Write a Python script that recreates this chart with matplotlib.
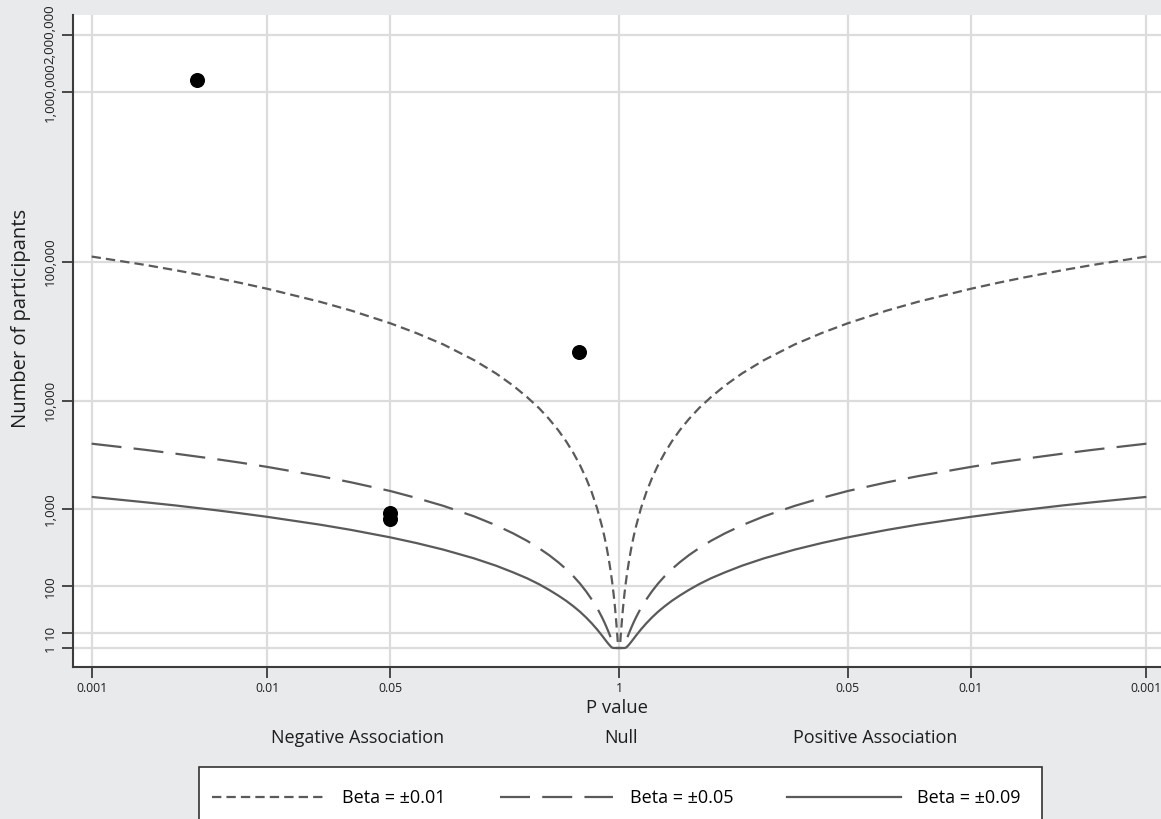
import numpy as np
import matplotlib
matplotlib.use("Agg")
import matplotlib.pyplot as plt
from matplotlib.lines import Line2D
from matplotlib.patches import Rectangle

plt.rcParams['font.family'] = ['Open Sans', 'DejaVu Sans']

# ---------------- data ----------------
p_grid = [0.001, 0.002, 0.003, 0.005, 0.007, 0.01, 0.02, 0.03, 0.05, 0.07, 0.1,
          0.15, 0.2, 0.25, 0.3, 0.35, 0.4, 0.45, 0.5, 0.55, 0.6, 0.65, 0.7, 0.75,
          0.8, 0.825, 0.85, 0.875, 0.9, 0.915, 0.93, 0.94, 0.95, 0.96, 0.97,
          0.975, 0.98, 0.985, 0.99, 0.995, 1.0]
n_beta001 = [108000, 95500, 88100, 78800, 72700, 66300, 54100, 47100, 38400, 32800,
             27100, 20700, 16400, 13200, 10700, 8740, 7080, 5710, 4550, 3570, 2750,
             2060, 1490, 1020, 642, 489, 358, 247, 158, 114, 77, 57, 39, 25, 14, 9.8,
             6.3, 3.5, 1.6, 1, 1]
n_beta005 = [4330, 3820, 3520, 3150, 2910, 2650, 2160, 1880, 1540, 1310, 1080, 829,
             657, 529, 430, 349, 283, 228, 182, 143, 110, 82, 59, 41, 25.7, 19.6,
             14.3, 9.9, 6.3, 4.6, 3.1, 2.3, 1.6, 1.0, 1, 1, 1, 1, 1, 1, 1]
n_beta009 = [1340, 1180, 1090, 973, 898, 819, 668, 581, 474, 405, 334, 256, 203, 163,
             133, 108, 87, 70, 56, 44, 34, 25.4, 18.3, 12.5, 7.9, 6.0, 4.4, 3.05,
             1.95, 1.41, 1, 1, 1, 1, 1, 1, 1, 1, 1, 1, 1]
series_labels = ["Beta = \u00b10.01", "Beta = \u00b10.05", "Beta = \u00b10.09"]

dot_p = [0.004, 0.59, 0.05, 0.05]
dot_n = [1160000, 23800, 900, 780]
dot_side = [-1, -1, -1, -1]   # -1 = negative association, +1 = positive

xtick_p = [0.001, 0.01, 0.05, 1, 0.05, 0.01, 0.001]
xtick_side = [-1, -1, -1, 0, 1, 1, 1]
xtick_labels = ["0.001", "0.01", "0.05", "1", "0.05", "0.01", "0.001"]
ytick_vals = [1, 10, 100, 1000, 10000, 100000, 1000000, 2000000]
ytick_labels = ["1", "10", "100", "1,000", "10,000", "100,000", "1,000,000", "2,000,000"]

# ---------------- scales ----------------
def signed_logp(p, side):
    return np.asarray(side, float) * -np.log10(np.asarray(p, float))

def fwd(y):
    y = np.asarray(y, float)
    l = np.log10(np.clip(y, 1e-12, None))
    return np.sign(l) * l ** 2

def inv(t):
    t = np.asarray(t, float)
    return 10 ** (np.sign(t) * np.sqrt(np.abs(t)))

BG = "#e9eaec"
LC = "#5a5a5a"
GRID = "#dcdcdc"
SPINE = "#3c3c3c"
TXT = "#1e1e1e"

fig = plt.figure(figsize=(11.61, 8.19), dpi=100, facecolor=BG)
ax = fig.add_axes([73/1161, 1 - 667/819, 1 - 73/1161, (667 - 15)/819])
ax.set_facecolor("white")
ax.set_yscale("function", functions=(fwd, inv))

styles = [dict(linestyle=(0, (4.2, 2.3))),
          dict(linestyle=(0, (13.5, 5.5))),
          dict(linestyle="-")]
handles = []
for n, st in zip([n_beta001, n_beta005, n_beta009], styles):
    for side in (-1, 1):
        ax.plot(signed_logp(p_grid, side), n, color=LC, lw=1.6,
                solid_capstyle="butt", dash_capstyle="butt", zorder=3, **st)
    handles.append(Line2D([], [], color=LC, lw=1.6, dash_capstyle="butt", **st))

ax.plot(signed_logp(dot_p, dot_side), dot_n, "o", color="black", ms=9.8,
        zorder=4, linestyle="none")

ax.set_xlim(-3.106, 3.083)
ax.set_ylim(inv(-1.23), inv(40.97))

ax.set_xticks(signed_logp(xtick_p, xtick_side))
ax.set_xticklabels(xtick_labels, fontsize=8.8)
ax.set_yticks(ytick_vals)
ax.set_yticklabels(ytick_labels, fontsize=9.6, rotation=90, va="center")
ax.yaxis.set_minor_locator(matplotlib.ticker.NullLocator())
ax.xaxis.set_minor_locator(matplotlib.ticker.NullLocator())

ax.grid(True, color=GRID, lw=1.6, zorder=0)
ax.set_axisbelow(True)
for s in ("top", "right"):
    ax.spines[s].set_visible(False)
for s in ("left", "bottom"):
    ax.spines[s].set_color(SPINE)
    ax.spines[s].set_linewidth(1.5)
ax.tick_params(axis="both", direction="out", length=8, width=1.3, color=SPINE,
               labelcolor=TXT)
ax.tick_params(axis="y", pad=4)
ax.tick_params(axis="x", pad=3)

ax.set_xlabel("P value", fontsize=13.3, color=TXT, labelpad=3)
ax.set_ylabel("Number of participants", fontsize=14.5, color=TXT)
ax.yaxis.set_label_coords(-0.039, 0.535)

for xpx, s in [(358, "Negative Association"), (621, "Null"), (875, "Positive Association")]:
    fig.text(xpx/1161, 1 - 738/819, s, ha="center", va="center",
             fontsize=13, color=TXT)

# legend box (extends past the bottom edge of the figure)
fig.patches.append(Rectangle((199/1161, 1 - 840/819), (1042 - 199)/1161, (840 - 767)/819,
                             transform=fig.transFigure, facecolor="white",
                             edgecolor="#333333", linewidth=1.2, zorder=1))
leg = fig.legend(handles, series_labels, loc="center left",
                 bbox_to_anchor=(212/1161, 1 - 798/819),
                 ncol=3, fontsize=13, frameon=False,
                 borderpad=0, handlelength=6.3, handletextpad=0.9,
                 columnspacing=3.0, borderaxespad=0)
leg.set_zorder(2)

fig.savefig("out.png", dpi=100, facecolor=BG)
